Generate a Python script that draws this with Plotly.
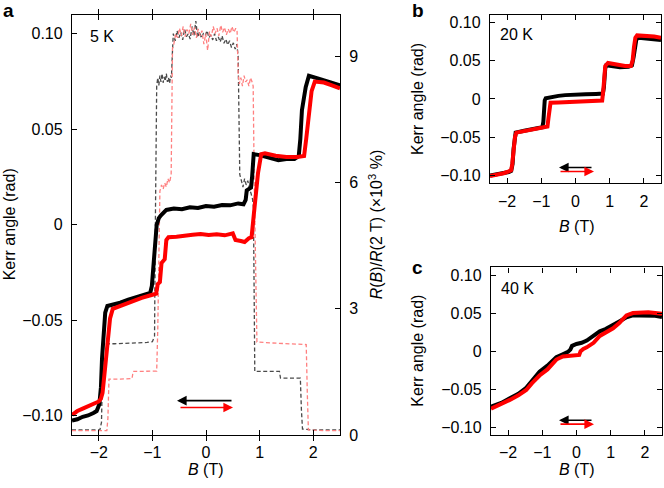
import plotly.graph_objects as go

# ---------------- Panel a (5 K) ----------------
a_black_B = [-2.5, -2.4, -2.3, -2.2, -2.1, -2.04, -1.99, -1.96, -1.94, -1.91, -1.88, -1.84, -1.75, -1.6,
             -1.45, -1.3, -1.15, -1.04, -1.01, -0.98, -0.95, -0.92, -0.88, -0.84, -0.74, -0.6, -0.45, -0.3,
             -0.15, 0.0, 0.15, 0.3, 0.45, 0.6, 0.70, 0.74, 0.76, 0.80, 0.84, 0.86, 0.875, 0.89, 1.0, 1.2,
             1.35, 1.5, 1.65, 1.73, 1.76, 1.79, 1.82, 1.86, 1.92, 2.0, 2.1, 2.25, 2.4, 2.5]
a_black_K = [-0.1025, -0.1018, -0.1005, -0.0998, -0.0985, -0.0975, -0.094, -0.085, -0.070, -0.055, -0.046,
             -0.0425, -0.0420, -0.0408, -0.0392, -0.0378, -0.0366, -0.0356, -0.032, -0.020, -0.008, 0.000,
             0.0035, 0.005, 0.0078, 0.0085, 0.0082, 0.0092, 0.0088, 0.0098, 0.0095, 0.0104, 0.0102, 0.0112,
             0.0108, 0.013, 0.018, 0.0185, 0.0195, 0.025, 0.031, 0.037, 0.0365, 0.0352, 0.0338, 0.0345,
             0.0345, 0.036, 0.045, 0.060, 0.066, 0.072, 0.078, 0.0775, 0.0765, 0.0752, 0.0738, 0.0730]

a_red_B = [-2.5, -2.4, -2.3, -2.2, -2.1, -2.0, -1.96, -1.93, -1.89, -1.85, -1.79, -1.74, -1.6, -1.4, -1.2,
           -1.0, -0.93, -0.90, -0.86, -0.83, -0.80, -0.77, -0.74, -0.70, -0.55, -0.40, -0.25, -0.1, 0.05,
           0.2, 0.35, 0.5, 0.55, 0.65, 0.72, 0.80, 0.85, 0.88, 0.92, 0.97, 1.03, 1.1, 1.3, 1.5, 1.7, 1.83,
           1.87, 1.92, 1.97, 2.03, 2.2, 2.35, 2.5]
a_red_K = [-0.0995, -0.0975, -0.0962, -0.0948, -0.0935, -0.0925, -0.091, -0.088, -0.077, -0.066, -0.049,
           -0.044, -0.0425, -0.0402, -0.0382, -0.0366, -0.036, -0.031, -0.030, -0.020, -0.019, -0.018,
           -0.008, -0.0065, -0.0062, -0.0055, -0.0052, -0.0048, -0.0053, -0.0050, -0.0055, -0.0045, -0.008,
           -0.0085, -0.009, -0.007, -0.0065, 0.002, 0.015, 0.027, 0.037, 0.0375, 0.0362, 0.0355, 0.0355,
           0.036, 0.045, 0.060, 0.070, 0.075, 0.0745, 0.0730, 0.0715]

# R(B)/R(2 T) (x10^3 %) — sweep down (grey) and sweep up (pink)
a_grey_B = [-2.5, -2.2, -1.98, -1.95, -1.93, -1.92, -1.7, -1.5, -1.3, -1.1, -1.0, -0.96, -0.945, -0.93,
            -0.92, -0.90, -0.88, -0.86, -0.84, -0.82, -0.80, -0.78, -0.76, -0.74, -0.72, -0.70, -0.68, -0.66,
            -0.645, -0.63,
            -0.61, -0.575, -0.54, -0.505, -0.47, -0.435, -0.40, -0.365, -0.33, -0.295, -0.26, -0.225, -0.19,
            -0.155, -0.12, -0.085, -0.05, -0.015, 0.02, 0.055, 0.09, 0.125, 0.16, 0.195, 0.23, 0.265, 0.30,
            0.335, 0.37, 0.405, 0.44, 0.475, 0.51, 0.545, 0.575,
            0.60, 0.615, 0.63, 0.66, 0.69, 0.72, 0.75, 0.78, 0.81, 0.84, 0.87, 0.885, 0.90, 0.91,
            1.1, 1.37, 1.39, 1.6, 1.76, 1.78, 1.80, 2.0, 2.5]
a_grey_R = [0.12, 0.12, 0.12, 0.3, 2.0, 2.17, 2.17, 2.18, 2.18, 2.2, 2.22, 2.35, 5.0, 7.0,
            8.3, 8.5, 8.32, 8.55, 8.4, 8.6, 8.38, 8.52, 8.42, 8.6, 8.4, 8.5, 8.36, 8.55, 8.5, 9.0,
            9.55, 9.38, 9.62, 9.45, 9.58, 9.40, 9.66, 9.48, 9.55, 9.42, 9.72, 9.50, 9.85, 9.46, 9.60, 9.44,
            9.55, 9.50, 9.62, 9.45, 9.52, 9.40, 9.55, 9.38, 9.47, 9.35, 9.50, 9.32, 9.42, 9.28, 9.38, 9.22,
            9.33, 9.18, 9.30,
            9.0, 7.5, 6.2, 6.05, 5.9, 6.1, 5.95, 6.05, 5.85, 5.75, 5.6, 5.4, 3.0, 1.51,
            1.51, 1.51, 1.35, 1.35, 1.35, 0.6, 0.14, 0.12, 0.12]

a_pink_B = [-2.5, -2.2, -1.85, -1.83, -1.81, -1.6, -1.38, -1.36, -1.1, -0.92, -0.90, -0.88, -0.87,
            -0.86, -0.83, -0.80, -0.77, -0.74, -0.71, -0.68, -0.65, -0.64, -0.625,
            -0.60, -0.565, -0.53, -0.495, -0.46, -0.425, -0.39, -0.355, -0.32, -0.285, -0.25, -0.215,
            -0.18, -0.145, -0.11, -0.075, -0.04, -0.005, 0.03, 0.065, 0.10, 0.135, 0.17, 0.205, 0.24, 0.275,
            0.31, 0.345, 0.38, 0.415, 0.45, 0.485, 0.52, 0.555, 0.58,
            0.60, 0.62, 0.65, 0.68, 0.71, 0.74, 0.77, 0.80, 0.83, 0.86, 0.88, 0.90, 0.93, 0.95,
            1.2, 1.5, 1.75, 1.87, 1.89, 1.91, 2.2, 2.5]
a_pink_R = [0.1, 0.1, 0.1, 0.4, 1.33, 1.33, 1.34, 1.51, 1.51, 1.52, 2.5, 4.5, 5.5,
            5.8, 5.95, 5.85, 6.0, 5.9, 6.1, 6.0, 6.2, 7.5, 9.2,
            9.30, 9.55, 9.45, 9.68, 9.50, 9.72, 9.48, 9.65, 9.55, 9.78, 9.52, 9.70,
            9.45, 9.66, 9.50, 9.62, 9.30, 9.55, 9.15, 9.60, 9.48, 9.72, 9.55, 9.68, 9.50, 9.75,
            9.58, 9.70, 9.52, 9.66, 9.55, 9.72, 9.58, 9.68, 9.6,
            8.6, 8.35, 8.5, 8.3, 8.55, 8.4, 8.45, 8.3, 8.5, 8.4, 8.3, 6.0, 3.0, 2.21,
            2.19, 2.17, 2.15, 2.15, 1.0, 0.12, 0.1, 0.1]

# ---------------- Panel b (20 K) ----------------
b_black_B = [-2.5, -2.3, -2.1, -1.95, -1.88, -1.84, -1.81, -1.78, -1.75, -1.5, -1.2, -0.97, -0.94, -0.92,
             -0.90, -0.87, -0.7, -0.5, -0.3, 0.0, 0.3, 0.6, 0.80, 0.83, 0.85, 0.87, 0.9, 1.1, 1.3, 1.55, 1.65,
             1.70, 1.74, 1.78, 1.85, 2.1, 2.3, 2.5]
b_black_K = [-0.100, -0.0985, -0.097, -0.0955, -0.094, -0.085, -0.065, -0.048, -0.044, -0.0415, -0.039,
             -0.037, -0.030, -0.012, -0.002, 0.001, 0.003, 0.004, 0.005, 0.006, 0.006, 0.0065, 0.007, 0.015,
             0.030, 0.040, 0.044, 0.043, 0.0415, 0.042, 0.044, 0.055, 0.070, 0.078, 0.080, 0.079, 0.078, 0.077]

b_red_B = [-2.5, -2.3, -2.1, -1.95, -1.88, -1.85, -1.81, -1.77, -1.73, -1.5, -1.2, -0.9, -0.82, -0.79,
           -0.76, -0.73, -0.5, -0.2, 0.1, 0.4, 0.7, 0.78, 0.81, 0.84, 0.87, 0.95, 1.2, 1.45, 1.62, 1.67, 1.71,
           1.75, 1.8, 2.1, 2.3, 2.5]
b_red_K = [-0.1005, -0.099, -0.097, -0.0945, -0.093, -0.085, -0.065, -0.050, -0.044, -0.042, -0.0395,
           -0.037, -0.036, -0.025, -0.010, -0.005, -0.0045, -0.004, -0.003, -0.002, -0.002, -0.002, 0.010,
           0.030, 0.043, 0.047, 0.045, 0.043, 0.043, 0.050, 0.068, 0.080, 0.083, 0.0825, 0.0815, 0.080]

# ---------------- Panel c (40 K) ----------------
c_black_B = [-2.5, -2.2, -1.95, -1.7, -1.47, -1.3, -1.08, -0.85, -0.59, -0.4, -0.25, -0.18, -0.13, 0.0,
             0.15, 0.3, 0.5, 0.68, 0.85, 1.07, 1.25, 1.46, 1.65, 1.85, 2.1, 2.3, 2.5]
c_black_K = [-0.073, -0.068, -0.062, -0.056, -0.048, -0.038, -0.027, -0.019, -0.008, -0.004, -0.001,
             0.002, 0.007, 0.0095, 0.011, 0.014, 0.020, 0.026, 0.029, 0.034, 0.039, 0.0445, 0.047, 0.047,
             0.047, 0.0465, 0.045]

c_red_B = [-2.5, -2.2, -1.95, -1.7, -1.47, -1.3, -1.08, -0.85, -0.59, -0.4, -0.2, 0.0, 0.08, 0.12, 0.2,
           0.3, 0.5, 0.68, 0.85, 1.07, 1.25, 1.46, 1.65, 1.85, 2.1, 2.3, 2.5]
c_red_K = [-0.0756, -0.070, -0.064, -0.058, -0.051, -0.042, -0.032, -0.024, -0.011, -0.007, -0.006,
           -0.0055, -0.005, 0.000, 0.003, 0.005, 0.011, 0.020, 0.025, 0.030, 0.037, 0.047, 0.050, 0.051,
           0.051, 0.050, 0.049]

# tick labels
B_ticks = [-2, -1, 0, 1, 2]
B_ticktext = ["\u22122", "\u22121", "0", "1", "2"]
K_ticks = [-0.10, -0.05, 0, 0.05, 0.10]
K_ticktext = ["\u22120.10", "\u22120.05", "0", "0.05", "0.10"]
R_ticks = [0, 3, 6, 9]
R_ticktext = ["0", "3", "6", "9"]

FONT = "Liberation Sans, Arial, Helvetica, sans-serif"
BLACK = "#000000"
RED = "#ff0000"
GREY = "#4a4a4a"
PINK = "#ff8080"

fig = go.Figure()

# resistance (drawn beneath the Kerr curves)
fig.add_trace(go.Scatter(x=a_grey_B, y=a_grey_R, mode="lines", xaxis="x", yaxis="y",
                         line=dict(color=GREY, width=1.3, dash="4px,2.5px"), showlegend=False))
fig.add_trace(go.Scatter(x=a_pink_B, y=a_pink_R, mode="lines", xaxis="x", yaxis="y",
                         line=dict(color=PINK, width=1.3, dash="4px,2.5px"), showlegend=False))
# Kerr panel a
fig.add_trace(go.Scatter(x=a_black_B, y=a_black_K, mode="lines", xaxis="x", yaxis="y2",
                         line=dict(color=BLACK, width=4), showlegend=False))
fig.add_trace(go.Scatter(x=a_red_B, y=a_red_K, mode="lines", xaxis="x", yaxis="y2",
                         line=dict(color=RED, width=4), showlegend=False))
# panel b
fig.add_trace(go.Scatter(x=b_black_B, y=b_black_K, mode="lines", xaxis="x3", yaxis="y3",
                         line=dict(color=BLACK, width=4), showlegend=False))
fig.add_trace(go.Scatter(x=b_red_B, y=b_red_K, mode="lines", xaxis="x3", yaxis="y3",
                         line=dict(color=RED, width=4), showlegend=False))
# panel c
fig.add_trace(go.Scatter(x=c_black_B, y=c_black_K, mode="lines", xaxis="x4", yaxis="y4",
                         line=dict(color=BLACK, width=4), showlegend=False))
fig.add_trace(go.Scatter(x=c_red_B, y=c_red_K, mode="lines", xaxis="x4", yaxis="y4",
                         line=dict(color=RED, width=4), showlegend=False))

common = dict(showline=True, linecolor="black", linewidth=1.3, ticks="inside", ticklen=5, tickwidth=1.3,
              tickcolor="black", showgrid=False, zeroline=False,
              tickfont=dict(family=FONT, size=16, color="black"))
xcommon = dict(ticklabelstandoff=3, **common)
ycommon = dict(ticklabelstandoff=5, **common)

W, H = 664, 488
def px(x):
    return x / W
def py(y):
    return 1 - y / H

fig.update_layout(
    width=W, height=H, margin=dict(l=0, r=0, t=0, b=0),
    paper_bgcolor="white", plot_bgcolor="rgba(0,0,0,0)",
    font=dict(family=FONT, size=16, color="black"),
    xaxis=dict(domain=[px(72), px(340)], range=[-2.5, 2.5], anchor="y", mirror="allticks",
               tickvals=B_ticks, ticktext=B_ticktext, **xcommon),
    yaxis=dict(domain=[py(443), py(14)], range=[0, 10], anchor="x", side="right",
               tickvals=R_ticks, ticktext=R_ticktext, **ycommon),
    yaxis2=dict(range=[-0.11, 0.11], anchor="x", overlaying="y", side="left",
                tickvals=K_ticks, ticktext=K_ticktext, **ycommon),
    xaxis3=dict(domain=[px(490), px(661)], range=[-2.5, 2.5], anchor="y3", mirror="allticks",
                tickvals=B_ticks, ticktext=B_ticktext, **xcommon),
    yaxis3=dict(domain=[py(186), py(14)], range=[-0.11, 0.11], anchor="x3", mirror="allticks",
                tickvals=K_ticks, ticktext=K_ticktext, **ycommon),
    xaxis4=dict(domain=[px(491), px(662)], range=[-2.5, 2.5], anchor="y4", mirror="allticks",
                tickvals=B_ticks, ticktext=B_ticktext, **xcommon),
    yaxis4=dict(domain=[py(443), py(272)], range=[-0.11, 0.11], anchor="x4", mirror="allticks",
                tickvals=K_ticks, ticktext=K_ticktext, **ycommon),
)

ann = []
def text(x, y, t, size=16, xanchor="center", angle=0):
    ann.append(dict(x=px(x), y=py(y), xref="paper", yref="paper", text=t, showarrow=False,
                    xanchor=xanchor, yanchor="middle", textangle=angle,
                    font=dict(family=FONT, size=size, color="black")))

# panel letters
text(8, 10, "<b>a</b>", size=19)
text(418, 10, "<b>b</b>", size=19)
text(418, 272, "<b>c</b>", size=19)
# temperatures
text(88, 36, "5 K", xanchor="left")
text(498, 34, "20 K", xanchor="left")
text(499, 294, "40 K", xanchor="left")
# axis titles
text(206, 478, "<i>B</i> (T)")
text(577, 230, "<i>B</i> (T)")
text(577, 478, "<i>B</i> (T)")
text(9, 228, "Kerr angle (rad)", angle=-90)
text(418, 100, "Kerr angle (rad)", angle=-90)
text(418, 357, "Kerr angle (rad)", angle=-90)
text(376, 228, "<i>R</i>(<i>B</i>)/<i>R</i>(2 T) (×10<sup>3</sup> %)", angle=-90)

def arrow(xh, yh, dx, color):
    ann.append(dict(x=px(xh), y=py(yh), xref="paper", yref="paper", ax=dx, ay=0,
                    axref="pixel", ayref="pixel", text="", showarrow=True,
                    arrowhead=2, arrowsize=1.2, arrowwidth=1.6, arrowcolor=color, standoff=0))

arrow(177, 408, 56, BLACK)
arrow(233, 415, -54, RED)
arrow(559, 170, 34, BLACK)
arrow(594, 174, -35, RED)
arrow(559, 428, 34, BLACK)
arrow(594, 432, -35, RED)

fig.update_layout(annotations=ann)
fig.write_html("out.html", config={"displayModeBar": False},
               post_script="document.body.style.margin='0px';document.body.style.padding='0px';")
